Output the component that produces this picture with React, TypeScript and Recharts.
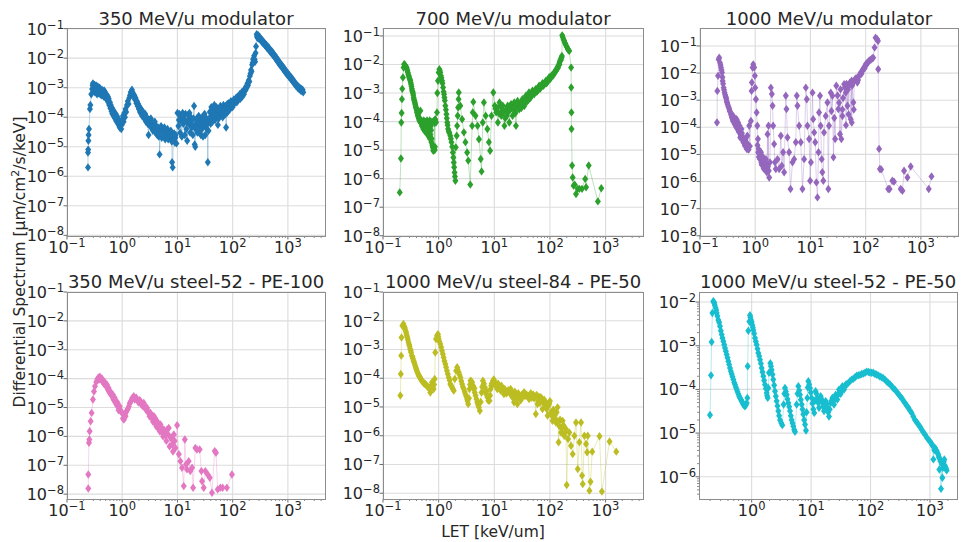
import React from 'react';
import { ScatterChart, Scatter, XAxis, YAxis, ReferenceLine } from 'recharts';

type Pt = [number, number];

// LET [keV/um], differential spectrum
const mod350: Pt[] = [
  [0.24, 2.0e-6], [0.24, 6.4e-6], [0.242, 8e-6], [0.244, 1.6e-5], [0.246, 2.5e-5], [0.25, 4e-5], [0.26, 1.9e-4], [0.265, 2.6e-4], [0.275, 6e-4], [0.285, 9e-4],
  [0.29, 1.2e-3], [0.295, 1.4e-3], [0.3, 9e-4], [0.305, 1.1e-3], [0.31, 8e-4], [0.315, 1.25e-3], [0.32, 7e-4], [0.325, 1.1e-3], [0.33, 8.5e-4], [0.335, 1.2e-3],
  [0.34, 7e-4], [0.345, 1.0e-3], [0.35, 6e-4], [0.355, 9e-4], [0.36, 1.1e-3], [0.365, 7.5e-4], [0.37, 1.0e-3], [0.375, 6.5e-4], [0.38, 9e-4], [0.385, 7e-4],
  [0.39, 1.0e-3], [0.4, 6e-4], [0.41, 8e-4], [0.42, 5.5e-4], [0.43, 8.5e-4], [0.44, 6e-4], [0.45, 7.5e-4], [0.46, 5e-4], [0.47, 8e-4], [0.48, 5.5e-4],
  [0.49, 7e-4], [0.5, 4.5e-4], [0.51, 6e-4], [0.52, 4.2e-4], [0.53, 5.5e-4], [0.54, 3.8e-4], [0.55, 5e-4], [0.56, 3.2e-4], [0.57, 4.2e-4], [0.58, 2.6e-4],
  [0.6, 3.2e-4], [0.61, 2.0e-4], [0.62, 2.6e-4], [0.64, 1.6e-4], [0.65, 2.1e-4], [0.66, 1.3e-4], [0.68, 1.8e-4], [0.7, 1.1e-4], [0.72, 1.5e-4], [0.74, 9e-5],
  [0.76, 1.3e-4], [0.78, 7.5e-5], [0.8, 1.1e-4], [0.82, 6.5e-5], [0.84, 9e-5], [0.86, 5.5e-5], [0.88, 8e-5], [0.9, 4.5e-5], [0.93, 7e-5], [0.96, 4e-5],
  [0.98, 5.5e-5], [1.0, 8e-5], [1.03, 1.1e-4], [1.06, 7e-5], [1.09, 1.4e-4], [1.12, 1e-4], [1.15, 1.9e-4], [1.18, 1.5e-4], [1.22, 2.6e-4], [1.26, 3.5e-4],
  [1.3, 2.8e-4], [1.34, 4.5e-4], [1.38, 5.5e-4], [1.42, 7e-4], [1.46, 6e-4], [1.5, 8.5e-4], [1.54, 7e-4], [1.58, 6e-4], [1.62, 5e-4], [1.66, 5.5e-4],
  [1.7, 4e-4], [1.75, 4.5e-4], [1.8, 3e-4], [1.85, 3.5e-4], [1.9, 2.4e-4], [1.95, 2.8e-4], [2.0, 1.9e-4], [2.05, 2.3e-4], [2.1, 1.5e-4], [2.15, 2.0e-4],
  [2.2, 1.3e-4], [2.25, 1.7e-4], [2.3, 1.1e-4], [2.4, 1.5e-4], [2.5, 9e-5], [2.6, 1.3e-4], [2.7, 7e-5], [2.8, 1.0e-4], [2.9, 6e-5], [3.0, 2.5e-5],
  [3.1, 8e-5], [3.2, 5e-5], [3.3, 9e-5], [3.4, 4.5e-5], [3.5, 7e-5], [3.6, 3.5e-5], [3.7, 6e-5], [3.8, 4e-5], [3.9, 7e-5], [4.0, 3e-5],
  [4.15, 5e-5], [4.3, 2.5e-5], [4.45, 4.5e-5], [4.6, 2.2e-5], [4.75, 5.5e-6], [4.9, 3.5e-5], [5.05, 5e-5], [5.2, 2e-5], [5.4, 4e-5], [5.6, 2.5e-5],
  [5.8, 4.5e-5], [6.0, 1.8e-5], [6.2, 3.5e-5], [6.4, 2.2e-5], [6.6, 4e-5], [6.8, 1.8e-5], [7.0, 3e-5], [7.3, 2.2e-5], [7.6, 3.5e-5], [7.9, 1.5e-5],
  [8.0, 3e-6], [8.2, 2e-6], [8.4, 1.8e-5], [8.7, 2.8e-5], [9.0, 1.4e-5], [9.3, 2.5e-5], [9.6, 1.3e-5], [10.0, 1.4e-4], [10.4, 5e-5], [10.8, 1.3e-4],
  [11.2, 3e-5], [11.6, 1.1e-4], [12.0, 2.2e-5], [12.4, 1.4e-4], [12.8, 6e-5], [13.2, 1.2e-4], [13.6, 2.5e-5], [14.0, 1.3e-4], [14.5, 4e-5], [15.0, 1.6e-5],
  [15.5, 1.2e-4], [16.0, 6e-5], [16.5, 1.4e-4], [17.0, 3e-5], [17.5, 1e-4], [18.0, 4.5e-5], [18.5, 8e-5], [19.0, 2.5e-5], [19.5, 9e-5], [20, 2.4e-4],
  [20.5, 1.2e-5], [21, 1e-5], [21.6, 6e-5], [22.3, 9e-5], [23, 3e-5], [23.6, 7e-5], [24.3, 1.1e-4], [25, 3.5e-5], [25.8, 9e-5], [26.5, 2.5e-5],
  [27.3, 6e-5], [28, 1e-4], [29, 2.2e-5], [30, 5e-5], [31, 1.3e-4], [32, 2.5e-5], [33, 7e-5], [34, 4e-5], [35, 6e-5], [35.5, 3e-6],
  [36.5, 3.5e-5], [37.5, 9e-5], [38.5, 1.5e-4], [40, 6e-5], [41, 2.2e-4], [42, 1.2e-4], [43, 7e-5], [44, 1.8e-4], [45, 1.1e-4], [46.5, 2.6e-4],
  [48, 8e-5], [49.5, 1.9e-4], [51, 2.2e-4], [52.5, 1.3e-4], [54, 5.5e-5], [55.5, 1.6e-4], [57, 1.9e-4], [58.5, 1.1e-4], [60, 2.4e-4], [62, 1.4e-4],
  [64, 2.0e-4], [66, 1.0e-4], [68, 2.6e-4], [70, 1.7e-4], [72, 2.2e-4], [74, 1.3e-4], [76, 4.5e-5], [78, 2.0e-4], [80, 2.8e-4], [82, 1.6e-4],
  [85, 3e-4], [88, 1.8e-4], [90, 2.4e-4], [93, 3.5e-4], [96, 2.2e-4], [99, 3.2e-4], [102, 2.6e-4], [105, 4e-4], [108, 3e-4], [112, 3.5e-4],
  [115, 4.5e-4], [119, 3.2e-4], [122, 5e-4], [126, 3.8e-4], [130, 4.5e-4], [134, 6e-4], [138, 4.2e-4], [142, 5.5e-4], [146, 7e-4], [150, 5e-4],
  [155, 7.5e-4], [160, 6e-4], [165, 9e-4], [170, 8e-4], [175, 1.1e-3], [180, 1.0e-3], [185, 1.4e-3], [190, 1.2e-3], [195, 1.8e-3], [200, 1.6e-3],
  [205, 2.5e-3], [210, 3e-3], [215, 4e-3], [220, 3.5e-3], [225, 6e-3], [230, 7e-3], [235, 9e-3], [240, 1.0e-2], [245, 1.2e-2], [250, 9e-3],
  [255, 7.5e-3], [260, 1.5e-2], [265, 2.5e-2], [272, 6.5e-2], [276, 5.2e-2], [280, 5.8e-2], [285, 4.8e-2], [290, 6e-2], [295, 4.6e-2], [300, 5e-2],
  [308, 5.3e-2], [315, 4.2e-2], [322, 4.6e-2], [330, 3.8e-2], [338, 4.2e-2], [345, 3.4e-2], [352, 3.8e-2], [360, 3.1e-2], [370, 3.4e-2], [380, 2.8e-2],
  [390, 3.1e-2], [400, 2.5e-2], [410, 2.8e-2], [420, 2.2e-2], [432, 2.5e-2], [445, 2e-2], [457, 2.2e-2], [470, 1.7e-2], [485, 1.9e-2], [500, 1.5e-2],
  [515, 1.7e-2], [530, 1.3e-2], [545, 1.45e-2], [560, 1.15e-2], [580, 1.25e-2], [600, 9.5e-3], [620, 1.05e-2], [640, 8e-3], [660, 8.8e-3], [680, 6.8e-3],
  [700, 7.5e-3], [720, 5.8e-3], [745, 6.4e-3], [770, 5e-3], [795, 5.5e-3], [820, 4.3e-3], [845, 4.7e-3], [870, 3.6e-3], [895, 4e-3], [920, 3.2e-3],
  [950, 3.5e-3], [980, 2.7e-3], [1010, 3e-3], [1040, 2.4e-3], [1070, 2.6e-3], [1100, 2.1e-3], [1135, 2.3e-3], [1170, 1.8e-3], [1205, 2e-3], [1240, 1.55e-3],
  [1280, 1.7e-3], [1320, 1.35e-3], [1360, 1.45e-3], [1400, 1.15e-3], [1450, 1.25e-3], [1500, 1e-3], [1550, 1.1e-3], [1600, 8.8e-4], [1650, 1e-3], [1700, 8e-4],
  [1750, 9e-4], [1800, 7.5e-4], [1850, 8.5e-4], [1900, 7e-4],
];
const mod350Band: Pt[] = [
  [3.05, 6e-5], [3.35, 6e-5], [3.75, 5e-5], [4.2, 4e-5], [4.7, 3e-5], [5.5, 3.2e-5], [6.3, 3e-5], [7.1, 2.6e-5], [7.8, 2.4e-5], [9.2, 2e-5],
  [10.6, 8e-5], [11.8, 7e-5], [13, 9e-5], [14.8, 7e-5], [16.2, 9e-5], [17.2, 6e-5], [18.8, 5e-5], [21.3, 4e-5], [22.8, 5e-5], [24.7, 6e-5],
  [26, 5e-5], [27.7, 4e-5], [29.5, 8e-5], [31.5, 6e-5], [33.5, 9e-5], [36, 7e-5], [39.5, 9e-5], [42.5, 1.5e-4], [44.5, 9e-5], [47, 1.4e-4],
  [50, 1.1e-4], [53, 1.9e-4], [56, 9e-5], [59, 1.5e-4], [63, 1.7e-4], [67, 1.5e-4], [71, 1.2e-4], [75, 2.4e-4], [79, 1.4e-4], [84, 2.2e-4],
  [89, 2.8e-4], [94, 2.7e-4], [100, 2.2e-4],
];

const mod700: Pt[] = [
  [0.2, 3.3e-7], [0.21, 5.1e-6], [0.213, 9.3e-5], [0.216, 2e-4], [0.219, 6.1e-4], [0.222, 1.4e-3], [0.228, 3.5e-3], [0.234, 7.8e-3], [0.24, 1.02e-2], [0.248, 9.5e-3],
  [0.256, 8.5e-3], [0.265, 7.8e-3], [0.28, 5.2e-3], [0.295, 3.6e-3], [0.31, 2.7e-3], [0.32, 2e-3], [0.33, 1.4e-3], [0.345, 1e-3], [0.355, 7e-4], [0.37, 5e-4],
  [0.38, 4e-4], [0.395, 3e-4], [0.405, 2.4e-4], [0.42, 1.8e-4], [0.435, 1.4e-4], [0.45, 1.1e-4], [0.47, 2.4e-4], [0.48, 9e-5], [0.5, 7e-5], [0.51, 1.0e-4],
  [0.53, 5.5e-5], [0.55, 9e-5], [0.57, 4.5e-5], [0.59, 1.0e-4], [0.61, 4e-5], [0.63, 8e-5], [0.65, 3.2e-5], [0.67, 9e-5], [0.7, 2.5e-5], [0.72, 7e-5],
  [0.74, 1.9e-5], [0.76, 1e-4], [0.78, 1.4e-5], [0.8, 9.5e-6], [0.82, 1.1e-5], [0.84, 9e-5], [0.86, 1.3e-5], [0.88, 1e-4], [0.895, 9.3e-5], [0.933, 2.1e-4],
  [0.946, 1e-3], [0.973, 2.7e-3], [1.0, 5.2e-3], [1.03, 6.8e-3], [1.07, 5.2e-3], [1.15, 2.7e-3], [1.2, 1.56e-3], [1.27, 7e-4], [1.32, 3.6e-4], [1.38, 1.8e-4],
  [1.43, 9.3e-5], [1.48, 5.5e-5], [1.62, 3.2e-5], [1.7, 1.9e-5], [1.8, 8.3e-6], [1.87, 3.7e-6], [1.93, 1.66e-6], [2.0, 8.5e-7], [2.03, 1.25e-5], [2.11, 3.2e-5],
  [2.15, 7.1e-5], [2.2, 1.6e-4], [2.24, 3.1e-4], [2.28, 6.1e-4], [2.3, 1.04e-3], [2.45, 3.6e-4], [2.64, 1.2e-4], [2.84, 4.2e-5], [3.03, 1.9e-5], [3.25, 8.3e-6],
  [3.4, 4.3e-6], [3.7, 6.2e-7], [4.0, 7.1e-5], [4.1, 2.1e-4], [4.2, 4.9e-4], [4.6, 1.6e-4], [5.0, 7.1e-5], [5.3, 2.4e-5], [5.7, 4.9e-6], [5.9, 1.8e-6],
  [6.2, 9.3e-5], [6.5, 4.7e-4], [7.0, 1.6e-4], [7.5, 5.5e-5], [8.0, 1.9e-5], [8.4, 9.5e-6], [8.9, 1.6e-4], [9.6, 1.04e-3], [10.2, 3.6e-4], [10.8, 2.1e-4],
  [11.6, 9.3e-5], [12.4, 4.7e-4], [13.3, 1.6e-4], [14.2, 3.6e-4], [15.2, 7.1e-5], [16.3, 2.7e-4], [17.4, 3.6e-4], [18.6, 9.3e-5], [20, 4.1e-4], [21.3, 1.6e-4],
  [22.8, 4.7e-4], [24.5, 7.1e-5], [26.2, 5.3e-4], [28, 2.7e-4], [30, 4.5e-4], [32, 6.1e-4], [34.5, 3.5e-4], [37, 8e-4], [40, 5.5e-4], [42, 1.04e-3],
  [45, 7e-4], [48.5, 1.2e-3], [52, 9e-4], [56, 1.4e-3], [60, 1.2e-3], [64, 1.8e-3], [69, 1.6e-3], [73.5, 2.2e-3], [79, 2e-3], [84.5, 2.7e-3],
  [90, 2.5e-3], [97, 3.6e-3], [104, 3.5e-3], [111, 4.5e-3], [120, 5e-3], [128, 6.5e-3], [137, 8e-3], [147, 1.1e-2], [155, 1.5e-2], [164, 2e-2],
  [166, 1.05e-1], [175, 7.6e-2], [185, 5.8e-2], [196, 4.5e-2], [210, 3.4e-2], [222, 3e-2], [240, 7.8e-3], [241, 1.56e-3], [243, 2.1e-4], [244, 5.5e-5],
  [250, 2.9e-6], [256, 1.1e-6], [266, 5.7e-7], [278, 6.2e-7], [294, 2.9e-7], [316, 4.4e-7], [338, 4.4e-7], [377, 4.4e-7], [430, 9.8e-7], [446, 5e-7],
  [497, 2.9e-6], [727, 1.6e-7], [836, 4.6e-7],
];
const mod700Band: Pt[] = [
  [0.244, 9.8e-3], [0.252, 9e-3], [0.26, 8.2e-3], [0.27, 6.8e-3], [0.275, 6e-3], [0.285, 4.5e-3], [0.29, 4e-3], [0.3, 3.2e-3], [0.305, 2.9e-3], [0.315, 2.3e-3],
  [0.325, 1.7e-3], [0.335, 1.2e-3], [0.34, 1.1e-3], [0.35, 8.5e-4], [0.36, 6e-4], [0.365, 5.5e-4], [0.375, 4.5e-4], [0.385, 3.5e-4], [0.39, 3.2e-4], [0.4, 2.7e-4],
  [0.41, 2.1e-4], [0.415, 2e-4], [0.425, 1.6e-4], [0.43, 1.5e-4], [0.44, 1.25e-4], [0.46, 1.0e-4], [0.49, 1.1e-4], [0.52, 8e-5], [0.54, 1.1e-4], [0.56, 6e-5],
  [0.58, 8e-5], [0.6, 6e-5], [0.62, 1.1e-4], [0.64, 5e-5], [0.66, 7e-5], [0.68, 4e-5], [0.69, 1.1e-4], [0.71, 3.5e-5], [0.73, 5e-5], [0.75, 2.5e-5],
  [0.77, 1.5e-5], [0.79, 1.2e-5], [0.81, 1.0e-5], [0.83, 1.1e-4], [0.85, 1.0e-5], [0.87, 1.2e-4], [1.05, 6e-3], [1.1, 4e-3], [1.12, 3.4e-3], [1.17, 2.2e-3],
  [1.23, 1.1e-3], [1.25, 9e-4], [1.29, 5.5e-4], [1.35, 2.6e-4], [1.4, 1.3e-4], [1.45, 7.5e-5], [1.52, 4.5e-5], [1.56, 4e-5], [1.66, 2.5e-5], [1.75, 1.3e-5],
  [1.84, 5.5e-6], [1.9, 2.5e-6], [1.96, 1.2e-6], [11.2, 3e-4], [13.8, 2.4e-4], [16.8, 1.6e-4], [19.2, 2.6e-4], [23.6, 2.2e-4], [25.4, 3.4e-4], [29, 3.6e-4],
  [31, 5e-4], [33, 4.5e-4], [35.5, 6.5e-4], [38.5, 5e-4], [41, 8.5e-4], [43.5, 6.5e-4], [46.5, 9e-4], [50, 1e-3], [54, 1.1e-3], [58, 1.1e-3],
  [62, 1.5e-3], [66.5, 1.4e-3], [71, 1.9e-3], [76, 1.8e-3], [81.5, 2.3e-3], [87, 2.2e-3], [93.5, 3e-3], [100, 3e-3], [107, 4e-3], [115, 4.2e-3],
  [124, 5.5e-3], [132, 7e-3], [142, 9e-3], [151, 1.3e-2], [160, 1.7e-2], [170, 9e-2], [180, 6.8e-2], [190, 5.2e-2], [203, 4e-2], [216, 3.2e-2],
  [10.5, 2.8e-4], [12, 2e-4], [12.8, 3.5e-4], [14.6, 2.1e-4], [15.7, 1.3e-4], [17.9, 2.2e-4], [20.6, 3e-4], [22, 3.1e-4], [24, 2e-4], [27, 4e-4],
  [30.5, 3e-4], [33.5, 4e-4], [36, 5.5e-4], [39, 7e-4], [42.5, 7.5e-4], [46, 8e-4], [49, 1.05e-3], [53, 1.2e-3], [57, 1.25e-3], [61, 1.3e-3],
  [65, 1.6e-3], [70, 1.75e-3], [75, 2e-3], [80, 2.1e-3], [86, 2.5e-3], [92, 2.7e-3], [98, 3.3e-3], [105, 3.8e-3], [113, 4.4e-3], [121, 5.2e-3],
  [129, 6e-3], [139, 7.5e-3], [148, 1e-2], [157, 1.4e-2], [162, 1.8e-2],
];

const mod1000: Pt[] = [
  [0.203, 1.5e-4], [0.206, 2.2e-3], [0.212, 7.9e-3], [0.217, 3.2e-2], [0.223, 3.7e-2], [0.23, 2.4e-2], [0.24, 1.6e-2], [0.25, 1.04e-2], [0.257, 5.1e-3], [0.268, 2.9e-3],
  [0.279, 1.9e-3], [0.295, 1.25e-3], [0.316, 7.1e-4], [0.339, 4.7e-4], [0.363, 3.1e-4], [0.389, 2e-4], [0.4, 2.6e-4], [0.417, 1.5e-4], [0.43, 1.9e-4], [0.447, 1.14e-4],
  [0.46, 2e-4], [0.479, 8.6e-5], [0.49, 1.5e-4], [0.514, 6.5e-5], [0.52, 1.14e-4], [0.535, 4.2e-5], [0.551, 4.9e-5], [0.565, 8.6e-5], [0.59, 3.7e-5], [0.61, 2.8e-5],
  [0.633, 3.2e-5], [0.65, 2.1e-5], [0.678, 2.8e-5], [0.7, 1.6e-5], [0.72, 4.9e-5], [0.74, 1.8e-5], [0.779, 1.14e-4], [0.835, 1.7e-4], [0.858, 2.2e-3], [0.87, 4.5e-3],
  [0.895, 1.6e-2], [0.92, 2.1e-2], [0.959, 1.6e-2], [0.986, 7.9e-3], [1.0, 2.9e-3], [1.03, 1.09e-3], [1.06, 3.5e-4], [1.09, 1.14e-4], [1.12, 3.7e-5], [1.15, 1.6e-5],
  [1.18, 1.03e-5], [1.22, 6.7e-6], [1.27, 1.2e-5], [1.31, 4.2e-6], [1.36, 7.8e-6], [1.4, 3.8e-6], [1.45, 5.1e-6], [1.5, 2.9e-6], [1.56, 6.7e-6], [1.62, 2.2e-6],
  [1.67, 5.6e-5], [1.74, 1.14e-4], [1.79, 1.4e-6], [1.85, 5.1e-6], [1.92, 2.9e-3], [2.0, 1.7e-3], [2.06, 6.2e-4], [2.11, 1.14e-4], [2.2, 2.4e-5], [2.27, 5.1e-6],
  [2.36, 2.9e-6], [2.53, 6.7e-6], [2.71, 2.9e-6], [2.91, 4.9e-5], [3.03, 3.8e-6], [3.2, 1.2e-5], [3.34, 2.2e-6], [3.58, 1.45e-3], [3.68, 4.7e-4], [3.84, 4.2e-5],
  [4.11, 1.2e-5], [4.35, 5.3e-7], [4.73, 5.1e-6], [5.07, 6.7e-6], [5.43, 2.8e-5], [5.66, 1.45e-3], [5.82, 6.2e-4], [6.24, 1.14e-4], [6.69, 2.8e-5], [7.17, 5.3e-7],
  [7.69, 6.7e-6], [8.24, 2.9e-3], [8.59, 1.09e-3], [8.83, 1.14e-4], [9.47, 3.7e-5], [9.87, 1.07e-6], [10.2, 5.1e-6], [10.9, 1.9e-3], [11.2, 2e-4], [11.7, 6.5e-5],
  [12.2, 2.8e-5], [12.8, 9.3e-7], [13.4, 2.6e-7], [14.0, 1.2e-5], [14.3, 3.5e-4], [14.9, 1.45e-3], [15.3, 1.14e-4], [16.0, 6.7e-6], [16.4, 2.2e-6], [17.1, 1.07e-6],
  [17.6, 6.5e-5], [18.9, 2.6e-4], [20.3, 8.2e-4], [21.1, 5.3e-7], [21.7, 1.14e-4], [23.3, 1.9e-3], [25.0, 1.45e-3], [26.1, 7.8e-6], [28.0, 3.7e-5], [29.4, 3.4e-3],
  [32.0, 4.7e-4], [34.3, 5.6e-5], [36.3, 3.7e-5], [37.9, 2.6e-4], [40.7, 3.9e-3], [43.6, 1.9e-3], [46.8, 6.2e-4], [50.1, 3.4e-3], [53.7, 2e-4], [55.9, 5.2e-3],
  [59.9, 8.2e-4], [64.2, 5.9e-3], [70.7, 4.5e-3], [75.8, 7.9e-3], [81.2, 1.04e-2], [87.1, 1.2e-2], [93.3, 1.6e-2], [100, 2.1e-2], [107, 2.4e-2], [115, 2.8e-2],
  [126, 3.2e-2], [137, 3.7e-2], [145, 8.7e-2], [151, 2.0e-1], [162, 1.76e-1], [167, 1.53e-1], [169, 1.38e-2], [175, 1.6e-5], [181, 2.9e-6], [191, 2.8e-6],
  [256, 5.3e-7], [271, 5.3e-7], [304, 1.07e-6], [326, 9.9e-7], [431, 5.3e-7], [463, 4.6e-7], [496, 2.5e-6], [571, 1.4e-6], [654, 3.6e-6], [1387, 5.3e-7],
  [1558, 1.55e-6],
];
const mod1000Band: Pt[] = [
  [0.235, 2e-2], [0.245, 1.3e-2], [0.255, 7e-3], [0.262, 4e-3], [0.273, 2.4e-3], [0.285, 1.6e-3], [0.29, 1.4e-3], [0.3, 1.1e-3], [0.305, 9e-4], [0.31, 8e-4],
  [0.325, 6e-4], [0.33, 5.5e-4], [0.345, 4e-4], [0.35, 3.8e-4], [0.37, 2.8e-4], [0.375, 2.4e-4], [0.38, 2.3e-4], [0.395, 1.7e-4], [0.41, 2.1e-4], [0.425, 1.3e-4],
  [0.44, 1.6e-4], [0.455, 1e-4], [0.47, 1.3e-4], [0.5, 1.0e-4], [0.505, 7e-5], [0.53, 8e-5], [0.545, 5.5e-5], [0.56, 4.5e-5], [0.575, 6e-5], [0.6, 3.3e-5],
  [0.62, 4e-5], [0.64, 2.5e-5], [0.66, 3.5e-5], [0.69, 2.2e-5], [0.71, 2.5e-5], [0.73, 1.6e-5], [0.75, 2.2e-5], [0.76, 1.5e-5], [0.8, 2e-5], [1.1, 2.2e-5],
  [1.13, 1.2e-5], [1.16, 8e-6], [1.2, 1.3e-5], [1.24, 9e-6], [1.29, 5e-6], [1.33, 9e-6], [1.38, 5.5e-6], [1.42, 3e-6], [1.47, 6e-6], [1.53, 4.2e-6],
  [1.58, 3.2e-6], [1.6, 4.5e-6], [1.7, 3.5e-6], [1.76, 2.5e-6], [24, 4e-4], [27, 2.2e-4], [31, 1.5e-3], [33, 8e-4], [35, 2.5e-3], [38, 4.5e-4],
  [39, 1.2e-3], [42, 3e-3], [44, 1.2e-4], [45, 4e-3], [48, 2.5e-3], [49, 3e-4], [52, 4.5e-3], [56, 1.5e-4], [57, 3.5e-3], [61, 4.5e-4],
  [62, 5e-3], [67, 6.5e-3], [73, 5.5e-3], [78, 8.5e-3], [84, 9.5e-3], [90, 1.4e-2], [96, 1.5e-2], [103, 2e-2], [111, 2.6e-2], [120, 3e-2],
  [131, 3.5e-2],
];

const steel52pe100: Pt[] = [
  [0.243, 1.58e-8], [0.243, 4.8e-8], [0.25, 6e-7], [0.254, 7.8e-7], [0.257, 1.5e-6], [0.268, 3.35e-6], [0.279, 6.5e-6], [0.295, 1.9e-5], [0.308, 3.6e-5], [0.321, 5.4e-5],
  [0.339, 7.7e-5], [0.355, 9.5e-5], [0.368, 1.05e-4], [0.385, 1.1e-4], [0.406, 1.08e-4], [0.42, 9.8e-5], [0.435, 9.2e-5], [0.45, 8.3e-5], [0.466, 7.1e-5], [0.48, 6.6e-5],
  [0.5, 5.9e-5], [0.52, 5.4e-5], [0.536, 4.8e-5], [0.555, 4.2e-5], [0.574, 3.6e-5], [0.6, 3.2e-5], [0.63, 2.8e-5], [0.66, 2.45e-5], [0.7, 1.9e-5], [0.73, 2.2e-5],
  [0.758, 1.44e-5], [0.8, 1.2e-5], [0.84, 1.1e-5], [0.87, 9.7e-6], [0.93, 8e-6], [1.0, 6.5e-6], [1.03, 4.2e-6], [1.07, 3.8e-6], [1.11, 6e-6], [1.15, 5e-6],
  [1.22, 8e-6], [1.32, 1.1e-5], [1.42, 1.6e-5], [1.52, 2.15e-5], [1.62, 2.45e-5], [1.75, 2.1e-5], [1.87, 1.9e-5], [2.0, 1.5e-5], [2.15, 1.65e-5], [2.3, 1.2e-5],
  [2.46, 1.44e-5], [2.65, 9e-6], [2.83, 9.7e-6], [3.0, 6.5e-6], [3.25, 6.5e-6], [3.5, 4e-6], [3.74, 5e-6], [4.0, 2.8e-6], [4.29, 3.35e-6], [4.6, 1.8e-6],
  [4.93, 2.57e-6], [5.3, 1.3e-6], [5.66, 1.73e-6], [6.1, 1.1e-6], [6.5, 1.73e-6], [6.97, 1.97e-6], [7.49, 8.9e-7], [8.0, 5.2e-7], [8.6, 1.16e-6], [9.2, 4e-7],
  [9.87, 2.44e-6], [10.6, 2.4e-7], [11.3, 1.39e-7], [12.1, 8.2e-8], [13.0, 1.9e-8], [13.6, 7.8e-7], [14.3, 1.07e-7], [14.9, 7.2e-8], [16.0, 1.39e-7], [17.1, 6.3e-8],
  [18.4, 8.2e-8], [19.2, 1.66e-8], [21.1, 4e-7], [22.6, 3.5e-7], [25.3, 3.5e-7], [27.1, 6.3e-8], [27.9, 2.8e-8], [29.9, 1.66e-8], [32.0, 6.3e-8], [35.3, 4.8e-8],
  [38.5, 3.7e-8], [42.2, 1.12e-8], [47.2, 3.1e-7], [49.9, 2.7e-7], [53.5, 1.46e-8], [59.7, 1.66e-8], [65.8, 1.66e-8], [78.6, 1.66e-8], [97, 4.8e-8],
];
const steel52pe100Band: Pt[] = [
  [0.36, 9e-5], [0.375, 1.1e-4], [0.39, 9.5e-5], [0.395, 1.15e-4], [0.41, 9.5e-5], [0.43, 1e-4], [0.44, 8e-5], [0.46, 8.3e-5], [0.47, 6.5e-5], [0.49, 7.2e-5],
  [0.51, 5.8e-5], [0.53, 6.2e-5], [0.545, 4.4e-5], [0.565, 4.8e-5], [0.59, 3.6e-5], [0.615, 3.5e-5], [0.645, 2.6e-5], [0.675, 2.8e-5], [0.69, 2e-5], [0.72, 1.7e-5],
  [0.745, 1.8e-5], [0.78, 1.4e-5], [0.82, 1.5e-5], [0.86, 8e-6], [0.9, 1.1e-5], [0.96, 7e-6], [1.09, 4.5e-6], [1.18, 7e-6], [1.27, 9e-6], [1.37, 1.4e-5],
  [1.47, 1.8e-5], [1.57, 2.2e-5], [1.68, 1.9e-5], [1.8, 2.2e-5], [1.93, 1.6e-5], [2.07, 1.8e-5], [2.22, 1.3e-5], [2.38, 1.1e-5], [2.55, 1.2e-5], [2.74, 8e-6],
  [2.92, 7.5e-6], [3.12, 5e-6], [3.38, 5.5e-6], [3.62, 3.2e-6], [3.87, 4.5e-6], [4.15, 2.2e-6], [4.45, 2.6e-6], [4.78, 1.5e-6], [5.1, 2e-6], [5.5, 1e-6],
  [5.85, 1.3e-6], [6.3, 7e-7], [6.7, 1.2e-6], [7.2, 4.5e-7], [7.8, 9e-7], [8.3, 3e-7], [8.9, 7e-7],
];

const steel84pe50: Pt[] = [
  [0.205, 2.5e-5], [0.209, 1.4e-4], [0.212, 6.1e-4], [0.215, 2.6e-3], [0.223, 6.7e-3], [0.233, 7.7e-3], [0.25, 5.1e-3], [0.268, 3e-3], [0.287, 1.77e-3], [0.308, 1.04e-3],
  [0.33, 6.1e-4], [0.353, 4.1e-4], [0.379, 2.7e-4], [0.406, 1.83e-4], [0.435, 1.29e-4], [0.466, 1.07e-4], [0.5, 8.2e-5], [0.574, 6.3e-5], [0.66, 4.8e-5], [0.707, 3.2e-5],
  [0.758, 7.2e-5], [0.812, 4.2e-5], [0.847, 9.4e-5], [0.87, 7.9e-4], [0.895, 2.3e-3], [0.933, 3e-3], [0.973, 3.4e-3], [1.0, 2.3e-3], [1.07, 1.55e-3], [1.15, 9.1e-4],
  [1.23, 5.3e-4], [1.32, 3.1e-4], [1.41, 1.83e-4], [1.52, 1.07e-4], [1.62, 6.3e-5], [1.74, 4.8e-5], [1.87, 3.7e-5], [1.95, 9.4e-5], [2.06, 1.83e-4], [2.15, 2.4e-4],
  [2.3, 1.6e-4], [2.46, 1.07e-4], [2.64, 6.3e-5], [2.83, 4.2e-5], [3.03, 2.8e-5], [3.25, 1.9e-5], [3.39, 1.27e-5], [3.58, 4.2e-5], [3.74, 8.2e-5], [4.0, 7.2e-5],
  [4.29, 4.2e-5], [4.6, 2.5e-5], [4.93, 1.45e-5], [5.28, 9.7e-6], [5.5, 7.4e-6], [5.9, 3.2e-5], [6.24, 8.2e-5], [6.78, 4.8e-5], [7.17, 2.8e-5], [7.8, 1.66e-5],
  [8.2, 1.66e-5], [8.6, 4.2e-5], [9.45, 8.2e-5], [10.3, 7.2e-5], [11.3, 4.2e-5], [12.1, 5.5e-5], [13.0, 3.7e-5], [13.9, 4.8e-5], [14.9, 2.8e-5], [16.0, 3.2e-5],
  [18.4, 3.7e-5], [21.1, 2.2e-5], [22.6, 1.45e-5], [24.2, 2.8e-5], [26.0, 1.27e-5], [27.9, 2.5e-5], [32.0, 2.2e-5], [36.8, 2.8e-5], [42.2, 1.9e-5], [48.5, 2.5e-5],
  [55.7, 5.7e-6], [59.7, 1.27e-5], [64, 1.9e-5], [73.5, 8.5e-6], [84.5, 1.45e-5], [90.5, 5e-6], [97, 1.27e-5], [104, 6.5e-6], [111, 3.3e-6], [120, 5e-6],
  [128, 2.9e-6], [137, 9.7e-6], [143, 5.9e-7], [147, 2.2e-6], [158, 1.3e-6], [169, 3.3e-6], [181, 1.0e-6], [194, 1.7e-6], [200, 1.94e-8], [211, 7.7e-7],
  [223, 1.3e-6], [239, 4.5e-7], [256, 2.3e-7], [275, 1.0e-6], [294, 2.9e-6], [316, 7e-8], [338, 5.9e-7], [362, 2.9e-6], [378, 4.1e-8], [388, 2.1e-8],
  [416, 1.0e-6], [446, 5.2e-7], [465, 2.65e-7], [478, 1.0e-6], [512, 1.23e-8], [536, 2.5e-8], [575, 2.8e-7], [777, 9.6e-7], [857, 1.14e-8], [1177, 6.3e-7],
  [1553, 2.8e-7],
];
const steel84pe50Band: Pt[] = [
  [0.24, 6.5e-3], [0.245, 5.8e-3], [0.258, 4.2e-3], [0.263, 3.6e-3], [0.275, 2.6e-3], [0.28, 2.2e-3], [0.295, 1.5e-3], [0.3, 1.3e-3], [0.315, 9e-4], [0.32, 7.8e-4],
  [0.34, 5.5e-4], [0.345, 4.8e-4], [0.36, 3.7e-4], [0.37, 3.2e-4], [0.39, 2.3e-4], [0.395, 2.1e-4], [0.415, 1.6e-4], [0.425, 1.45e-4], [0.445, 1.2e-4], [0.455, 1.1e-4],
  [0.48, 9.5e-5], [0.49, 8.5e-5], [0.52, 7.5e-5], [0.54, 6.8e-5], [0.555, 6.4e-5], [0.59, 6e-5], [0.61, 5.5e-5], [0.63, 5.2e-5], [0.68, 4.2e-5], [0.73, 5.5e-5],
  [0.78, 5e-5], [0.83, 6e-5], [0.985, 2.8e-3], [1.03, 1.9e-3], [1.11, 1.2e-3], [1.19, 7e-4], [1.27, 4e-4], [1.36, 2.4e-4], [1.46, 1.4e-4], [1.57, 8.5e-5],
  [1.68, 5.5e-5], [1.8, 4.2e-5], [2.2, 2e-4], [2.38, 1.3e-4], [2.55, 8e-5], [2.73, 5e-5], [2.93, 3.4e-5], [3.14, 2.3e-5], [3.3, 1.6e-5], [3.66, 6e-5],
  [3.87, 7.8e-5], [4.15, 5.5e-5], [4.45, 3.2e-5], [4.77, 1.9e-5], [5.1, 1.2e-5], [5.7, 1.5e-5], [6.05, 5e-5], [6.5, 6.5e-5], [6.95, 3.6e-5], [7.5, 2.2e-5],
  [8.4, 2.5e-5], [9.0, 6.5e-5], [9.8, 9e-5], [10.8, 5.5e-5], [11.7, 6.5e-5], [12.5, 4.5e-5], [13.4, 5.5e-5], [14.4, 3.5e-5], [15.4, 4.2e-5], [17.2, 3.3e-5],
  [19.7, 4.2e-5], [23.4, 3.4e-5], [25.1, 2.1e-5], [27, 3e-5], [29.8, 1.7e-5], [34.3, 3.3e-5], [39.4, 2.3e-5], [45.2, 3e-5], [51.9, 2e-5], [57.5, 2.6e-5],
  [61.8, 1.6e-5], [68.5, 2.2e-5], [78.8, 1.8e-5], [87.4, 8.5e-6], [93.8, 1.1e-5], [100, 1.6e-5], [108, 5e-6], [115, 8e-6], [124, 4e-6], [132, 6.5e-6],
  [140, 3e-6], [152, 3.6e-6], [163, 1.8e-6], [175, 2.3e-6], [187, 1.3e-6], [3.5, 2e-5], [4.1, 5e-5], [4.4, 4.5e-5], [6.4, 6e-5], [7.3, 3.5e-5],
  [8.8, 5.5e-5], [10.0, 6e-5], [11.0, 6e-5], [12.8, 4.5e-5], [14.2, 4e-5], [15.7, 3.6e-5], [16.6, 3e-5], [17.8, 3.8e-5], [19.0, 3e-5], [20.3, 3.4e-5],
  [21.8, 2.8e-5], [23.0, 2.5e-5], [26.5, 2.3e-5], [28.7, 2.1e-5], [30.9, 2.6e-5], [33.1, 2.6e-5], [35.5, 2.4e-5], [38.1, 2.7e-5], [40.8, 2.4e-5], [43.7, 2.6e-5],
  [46.9, 2.1e-5], [50.2, 2.7e-5], [53.8, 2.2e-5], [62.9, 2.3e-5], [66.3, 1.4e-5], [71, 2e-5], [76, 1.5e-5], [81.5, 1.2e-5],
];

const steel52pe50: Pt[] = [
  [0.199, 2.6e-5], [0.207, 2.1e-4], [0.212, 1.22e-3], [0.218, 5.6e-3], [0.226, 1.04e-2], [0.235, 9.5e-3], [0.248, 7.3e-3], [0.258, 5.6e-3], [0.275, 3.9e-3], [0.293, 2.8e-3],
  [0.313, 1.8e-3], [0.334, 1.26e-3], [0.356, 8.9e-4], [0.38, 6.3e-4], [0.405, 4.4e-4], [0.432, 3.1e-4], [0.461, 2.26e-4], [0.492, 1.68e-4], [0.525, 1.29e-4], [0.56, 9.9e-5],
  [0.597, 7.9e-5], [0.637, 6.4e-5], [0.679, 5.4e-5], [0.724, 4.5e-5], [0.772, 4.1e-5], [0.824, 4.9e-5], [0.846, 6.4e-5], [0.857, 3.4e-4], [0.879, 2.2e-3], [0.914, 3.6e-3],
  [0.937, 5e-3], [0.975, 3.9e-3], [1.026, 3e-3], [1.067, 2.3e-3], [1.138, 1.5e-3], [1.214, 1.06e-3], [1.295, 6.8e-4], [1.381, 4.8e-4], [1.473, 3.1e-4], [1.571, 2e-4],
  [1.676, 1.29e-4], [1.788, 8.3e-5], [1.859, 6.4e-5], [1.907, 1.08e-4], [1.957, 2.4e-4], [2.06, 4e-4], [2.17, 2.8e-4], [2.31, 1.68e-4], [2.47, 9.1e-5], [2.63, 5.4e-5],
  [2.81, 3.2e-5], [3.0, 2e-5], [3.28, 1.52e-5], [3.45, 4.5e-5], [3.64, 1.08e-4], [3.88, 7.6e-5], [4.14, 4.9e-5], [4.42, 3.2e-5], [4.71, 2e-5], [5.02, 1.44e-5],
  [5.36, 1.07e-5], [5.71, 4.5e-5], [6.1, 1.18e-4], [6.5, 7.6e-5], [6.94, 4.5e-5], [7.4, 2.7e-5], [7.9, 1.57e-5], [8.2, 1.15e-5], [8.64, 6.4e-5], [8.98, 1.54e-4],
  [9.58, 1.08e-4], [10.2, 6.4e-5], [10.9, 3.5e-5], [11.3, 2.9e-5], [11.9, 9.1e-5], [12.7, 6.4e-5], [13.6, 3.8e-5], [14.5, 7e-5], [15.5, 4.9e-5], [16.5, 3.2e-5],
  [17.6, 5.4e-5], [18.8, 3.8e-5], [20, 2.4e-5], [21.3, 4.9e-5], [22.8, 6.4e-5], [24.3, 4.5e-5], [25.9, 7.6e-5], [27.6, 5.9e-5], [29.5, 9.9e-5], [31.4, 7.9e-5],
  [33.5, 1.18e-4], [35.8, 9.9e-5], [38.2, 1.29e-4], [42.3, 1.41e-4], [48.2, 1.68e-4], [54.8, 1.9e-4], [62.4, 2.1e-4], [71, 2.26e-4], [80.7, 2.4e-4], [91.8, 2.5e-4],
  [104, 2.4e-4], [119, 2.26e-4], [135, 2.1e-4], [154, 1.9e-4], [175, 1.68e-4], [199, 1.41e-4], [227, 1.18e-4], [258, 9.9e-5], [294, 7.9e-5], [334, 6.4e-5],
  [380, 4.9e-5], [433, 3.8e-5], [492, 2.9e-5], [560, 2e-5], [637, 1.57e-5], [724, 1.21e-5], [824, 9.3e-6], [938, 7.1e-6], [1067, 5.7e-6], [1140, 2.5e-6],
  [1215, 4.6e-6], [1297, 3.9e-6], [1383, 3.2e-6], [1438, 1.47e-6], [1494, 2.3e-6], [1534, 5.3e-7], [1616, 9.5e-7], [1679, 1.9e-6], [1745, 2.5e-6], [1838, 1.6e-6],
  [1910, 1.4e-6],
];
const steel52pe50Band: Pt[] = [
  [0.23, 1.0e-2], [0.24, 8.5e-3], [0.253, 6.5e-3], [0.265, 4.8e-3], [0.284, 3.4e-3], [0.303, 2.2e-3], [0.323, 1.5e-3], [0.345, 1.05e-3], [0.368, 7.5e-4], [0.392, 5.3e-4],
  [0.418, 3.7e-4], [0.446, 2.6e-4], [0.476, 1.95e-4], [0.508, 1.45e-4], [0.542, 1.12e-4], [0.578, 8.8e-5], [0.617, 7e-5], [0.658, 5.9e-5], [0.7, 5e-5], [0.748, 4.3e-5],
  [0.8, 4.4e-5], [0.95, 4.5e-3], [1.0, 3.5e-3], [1.046, 2.6e-3], [1.1, 1.9e-3], [1.175, 1.25e-3], [1.255, 8.5e-4], [1.34, 5.8e-4], [1.43, 3.9e-4], [1.52, 2.5e-4],
  [1.62, 1.6e-4], [1.73, 1.05e-4], [1.82, 7.2e-5], [2.11, 3.4e-4], [2.24, 2.2e-4], [2.39, 1.25e-4], [2.55, 7e-5], [2.72, 4.2e-5], [2.9, 2.5e-5], [3.15, 1.7e-5],
  [3.55, 8e-5], [3.76, 9e-5], [4.0, 6e-5], [4.28, 4e-5], [4.56, 2.5e-5], [4.86, 1.7e-5], [5.2, 1.2e-5], [5.9, 8e-5], [6.3, 9.5e-5], [6.72, 5.8e-5],
  [7.17, 3.5e-5], [7.65, 2e-5], [8.4, 3e-5], [8.8, 1.1e-4], [9.3, 1.3e-4], [9.9, 8.5e-5], [10.5, 4.8e-5], [11.6, 5.5e-5], [12.3, 8e-5], [13.1, 5e-5],
  [14.0, 5.5e-5], [15.0, 6e-5], [16.0, 4e-5], [17.0, 4.2e-5], [18.2, 4.6e-5], [19.4, 3e-5], [20.6, 3.5e-5], [22, 5.5e-5], [23.5, 5.5e-5], [25.1, 6e-5],
  [26.7, 6.8e-5], [28.5, 7.6e-5], [30.4, 9e-5], [32.4, 9.2e-5], [34.6, 1.08e-4], [37, 1.15e-4], [40, 1.32e-4], [45, 1.55e-4], [51.4, 1.75e-4], [58.4, 2.05e-4],
  [66.5, 2.15e-4], [75.7, 2.3e-4], [86, 2.55e-4], [97.5, 2.45e-4], [111, 2.4e-4], [126, 2.2e-4], [144, 1.98e-4], [164, 1.8e-4], [187, 1.52e-4], [212, 1.32e-4],
  [242, 1.06e-4], [275, 8.8e-5], [313, 7e-5], [356, 5.5e-5], [405, 4.3e-5], [461, 3.3e-5], [524, 2.4e-5], [597, 1.8e-5], [679, 1.4e-5], [772, 1.05e-5],
  [880, 8e-6], [1000, 6.4e-6], [1100, 5.2e-6], [1180, 4.1e-6], [1250, 4.2e-6], [1340, 3.5e-6], [1410, 2.8e-6], [1470, 2.6e-6], [1575, 2e-6], [1650, 1.6e-6],
  [1710, 2.2e-6], [1790, 1.8e-6], [1870, 1.5e-6],
];

const titles = [
  '350 MeV/u modulator',
  '700 MeV/u modulator',
  '1000 MeV/u modulator',
  '350 MeV/u steel-52 - PE-100',
  '1000 MeV/u steel-84 - PE-50',
  '1000 MeV/u steel-52 - PE-50',
];
const colors = ['#1f77b4', '#2ca02c', '#9467bd', '#e377c2', '#bcbd22', '#17becf'];

const YW = 60;
const MT = 10;
const MR = 5;
const XH = 28;
const GRID = '#dcdcdc';
const FRAME = '#8c8c8c';
const TICK = '#595959';
const INK = '#262626';

const panels = [
  { data: [...mod350, ...mod350Band], left: 67, top: 28, w: 258, h: 208, xd: [0.1, 4700], yd: [9.5e-9, 0.105], yMinor: false },
  { data: [...mod700, ...mod700Band], left: 383, top: 28, w: 260, h: 208, xd: [0.1, 4700], yd: [9.8e-9, 0.19], yMinor: false },
  { data: [...mod1000, ...mod1000Band], left: 700, top: 28, w: 258, h: 208, xd: [0.1, 4700], yd: [9.8e-9, 0.46], yMinor: false },
  { data: [...steel52pe100, ...steel52pe100Band], left: 67, top: 292, w: 258, h: 207, xd: [0.1, 4700], yd: [6.8e-9, 0.1], yMinor: false },
  { data: [...steel84pe50, ...steel84pe50Band], left: 383, top: 292, w: 260, h: 207, xd: [0.1, 4700], yd: [6.3e-9, 0.1], yMinor: false },
  { data: [...steel52pe50, ...steel52pe50Band], left: 699, top: 292, w: 258, h: 207, xd: [0.13, 2850], yd: [3.1e-7, 0.017], yMinor: true },
];

const isDecade = (v: number) => Math.abs(Math.log10(v) - Math.round(Math.log10(v))) < 1e-9;

const decadesIn = ([lo, hi]: number[]) => {
  const out: number[] = [];
  for (let k = Math.ceil(Math.log10(lo) - 1e-9); k <= Math.floor(Math.log10(hi) + 1e-9); k++) out.push(Math.pow(10, k));
  return out;
};

const minorsIn = ([lo, hi]: number[]) => {
  const out: number[] = [];
  for (let k = Math.floor(Math.log10(lo)); k <= Math.ceil(Math.log10(hi)); k++) {
    for (let m = 2; m <= 9; m++) {
      const v = m * Math.pow(10, k);
      if (v > lo && v < hi) out.push(v);
    }
  }
  return out;
};

const expText = (v: number) => {
  const e = Math.round(Math.log10(v));
  return e < 0 ? `\u2212${-e}` : `${e}`;
};

const XTick = (props: any) => {
  const { x, y, payload } = props;
  const major = isDecade(payload.value);
  return (
    <g>
      <line x1={x} x2={x} y1={y} y2={y + (major ? 3.5 : 2)} stroke={TICK} strokeWidth={major ? 0.9 : 0.7} />
      {major && (
        <text x={x} y={y + 17} textAnchor="middle" fontSize={16} fill={INK}>
          10<tspan dy={-6} fontSize={11.5}>{expText(payload.value)}</tspan>
        </text>
      )}
    </g>
  );
};

const YTick = (props: any) => {
  const { x, y, payload } = props;
  const major = isDecade(payload.value);
  return (
    <g>
      <line x1={x} x2={x - (major ? 3.5 : 2)} y1={y} y2={y} stroke={TICK} strokeWidth={major ? 0.9 : 0.7} />
      {major && (
        <text x={x - 3} y={y + 6} textAnchor="end" fontSize={16} fill={INK}>
          10<tspan dy={-6} fontSize={11.5}>{expText(payload.value)}</tspan>
        </text>
      )}
    </g>
  );
};

const diamond = (color: string) => (props: any) => {
  const { cx, cy } = props;
  return <path d={`M${cx},${cy - 4.2}L${cx + 3},${cy}L${cx},${cy + 4.2}L${cx - 3},${cy}Z`} fill={color} />;
};

const Panel = ({ idx }: { idx: number }) => {
  const p = panels[idx];
  const color = colors[idx];
  // spectra are drawn in LET order for the connecting line
  const rows = p.data
    .map(([x, y]) => ({ x, y }))
    .sort((a, b) => a.x - b.x);
  const xMaj = decadesIn(p.xd);
  const yMaj = decadesIn(p.yd);
  const xTicks = [...xMaj, ...minorsIn(p.xd)].sort((a, b) => a - b);
  const yTicks = (p.yMinor ? [...yMaj, ...minorsIn(p.yd)] : yMaj).sort((a, b) => a - b);
  return (
    <div style={{ position: 'absolute', left: p.left - YW, top: p.top - MT }}>
      <ScatterChart width={p.w + YW + MR} height={p.h + MT + XH} margin={{ top: MT, right: MR, bottom: 0, left: 0 }}>
        <XAxis
          type="number"
          dataKey="x"
          scale="log"
          domain={p.xd}
          allowDataOverflow
          ticks={xTicks}
          interval={0}
          tick={(t: any) => <XTick {...t} />}
          tickLine={false}
          axisLine={false}
          tickSize={0}
          tickMargin={0}
          height={XH}
        />
        <YAxis
          type="number"
          dataKey="y"
          scale="log"
          domain={p.yd}
          allowDataOverflow
          ticks={yTicks}
          interval={0}
          tick={(t: any) => <YTick {...t} />}
          tickLine={false}
          axisLine={false}
          tickSize={0}
          tickMargin={0}
          width={YW}
        />
        {xMaj.map((v) => (
          <ReferenceLine key={`gx${v}`} x={v} stroke={GRID} strokeWidth={1.1} />
        ))}
        {yMaj.map((v) => (
          <ReferenceLine key={`gy${v}`} y={v} stroke={GRID} strokeWidth={1.1} />
        ))}
        <Scatter
          data={rows}
          fill={color}
          line={{ stroke: color, strokeWidth: 0.9, strokeOpacity: 0.35 }}
          shape={diamond(color)}
          isAnimationActive={false}
        />
      </ScatterChart>
      <div
        style={{
          position: 'absolute',
          left: YW - 0.5,
          top: MT - 0.5,
          width: p.w + 1,
          height: p.h + 1,
          border: `1px solid ${FRAME}`,
          boxSizing: 'border-box',
          pointerEvents: 'none',
        }}
      />
    </div>
  );
};

export default function App() {
  return (
    <div
      style={{
        position: 'absolute',
        left: 0,
        top: 0,
        width: 961,
        height: 542,
        background: '#fff',
        overflow: 'hidden',
        fontFamily: '"DejaVu Sans", sans-serif',
      }}
    >
      {panels.map((_, i) => (
        <Panel key={i} idx={i} />
      ))}
      <svg width={961} height={542} style={{ position: 'absolute', left: 0, top: 0, pointerEvents: 'none' }}>
        {panels.map((p, i) => (
          <text key={i} x={p.left + p.w / 2} y={i < 3 ? 24.5 : 287.5} textAnchor="middle" fontSize={18} fill={INK}>
            {titles[i]}
          </text>
        ))}
        <text transform="rotate(-90)" x={-262} y={25} textAnchor="middle" fontSize={15.5} fill={INK}>
          Differential Spectrum [μm/cm<tspan dy={-6} fontSize={11}>2</tspan>
          <tspan dy={6}>/s/keV]</tspan>
        </text>
        <text x={493} y={536.5} textAnchor="middle" fontSize={15.5} fill={INK}>
          LET [keV/um]
        </text>
      </svg>
    </div>
  );
}
